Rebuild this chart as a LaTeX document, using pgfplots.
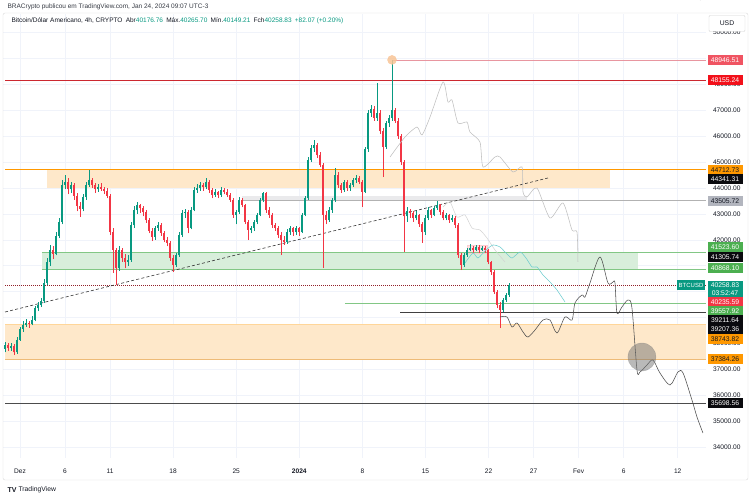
\documentclass[border=0pt]{standalone}
\usepackage{pgfplots}
\usepackage{pgfplotstable}
\pgfplotsset{compat=1.18}
\usetikzlibrary{calc}
\usepackage{fontspec}
\setmainfont{Liberation Sans}

\definecolor{upcol}{RGB}{8,153,129}
\definecolor{dncol}{RGB}{242,54,69}
\definecolor{txt}{RGB}{19,23,34}
\definecolor{gridcol}{RGB}{240,243,250}
\definecolor{peach}{RGB}{254,232,202}
\definecolor{mint}{RGB}{216,238,219}
\definecolor{band}{RGB}{234,234,236}
\definecolor{orng}{RGB}{255,152,0}
\definecolor{grn}{RGB}{76,175,80}
\definecolor{redln}{RGB}{204,40,48}
\definecolor{pinkln}{RGB}{232,150,160}
\definecolor{pinklab}{RGB}{240,84,98}
\definecolor{redlab}{RGB}{242,16,26}
\definecolor{graylab}{RGB}{178,181,190}
\definecolor{blk}{RGB}{10,10,14}
\definecolor{aqua}{RGB}{110,205,208}
\definecolor{dotcol}{RGB}{248,196,150}

% 8h candles: i, open, high, low, close
\pgfplotstableread{
i o h l c
0 37800 38050 37650 37940
1 37940 38000 37700 37820
2 37820 38020 37720 37900
3 37900 37960 37550 37650
4 37650 38250 37600 38150
5 38150 38650 38100 38550
6 38550 38850 38450 38720
7 38720 38950 38650 38800
8 38800 38880 38600 38760
9 38760 39050 38700 38900
10 38900 39450 38850 39350
11 39350 39600 39250 39480
12 39480 39750 39400 39620
13 39620 40500 39550 40350
14 40350 41300 40250 41150
15 41150 41800 41000 41610
16 41610 41750 41250 41450
17 41450 42300 41400 42150
18 42150 42850 42050 42700
19 42700 44300 42600 44120
20 44120 44500 43950 44250
21 44250 44400 43750 43950
22 43950 44250 43800 44100
23 44100 44200 43550 43700
24 43700 43800 43100 43300
25 43300 43450 42880 43200
26 43200 43750 43100 43650
27 43650 44250 43550 44120
28 44120 44700 44050 44300
29 44300 44400 44000 44120
30 44120 44200 43800 43950
31 43950 44150 43850 44050
32 44050 44200 43900 43980
33 43980 44050 43750 43900
34 43900 44000 43600 43700
35 43700 43750 42200 42300
36 42300 42450 40720 41600
37 41600 41700 40250 40910
38 40910 41750 40800 41610
39 41610 41700 41150 41300
40 41300 41450 40900 41140
41 41140 41400 41000 41220
42 41220 42700 41150 42570
43 42570 43300 42450 43150
44 43150 43450 43000 43340
45 43340 43400 43050 43230
46 43230 43300 42900 43070
47 43070 43150 42650 42760
48 42760 42850 42250 42350
49 42350 42450 41950 42110
50 42110 42550 42000 42460
51 42460 42700 42350 42570
52 42570 42650 42150 42260
53 42260 42350 41900 42000
54 42000 42100 41750 41880
55 41880 41950 41200 41300
56 41300 41400 40760 41030
57 41030 41500 40950 41410
58 41410 42300 41350 42190
59 42190 43150 42100 43030
60 43030 43200 42850 43070
61 43070 43150 42250 42460
62 42460 43250 42400 43150
63 43150 44050 43100 43920
64 43920 44150 43800 44000
65 44000 44250 43900 44120
66 44120 44200 43900 44040
67 44040 44390 43950 44230
68 44230 44300 43800 43920
69 43920 44000 43600 43730
70 43730 43950 43650 43850
71 43850 43900 43600 43730
72 43730 44050 43650 43920
73 43920 44000 43750 43850
74 43850 43950 43650 43730
75 43730 43800 43450 43540
76 43540 43600 42850 42960
77 42960 43150 42600 43070
78 43070 43650 43000 43540
79 43540 43600 43250 43340
80 43340 43400 42600 42690
81 42690 42750 41990 42380
82 42380 42550 42250 42460
83 42460 42750 42350 42690
84 42690 43050 42600 42960
85 42960 43600 42900 43540
86 43540 43850 43450 43810
87 43810 43850 43050 43150
88 43150 43250 42850 42960
89 42960 43050 42450 42570
90 42570 42650 42350 42460
91 42460 42550 42050 42190
92 42190 42300 41410 42000
93 42000 42150 41800 41920
94 41920 42400 41850 42300
95 42300 42550 42200 42460
96 42460 42500 42150 42300
97 42300 42550 42200 42460
98 42460 42500 42150 42300
99 42300 43050 42250 42960
100 42960 43700 42900 43610
101 43610 45200 43550 45080
102 45080 45650 45000 45540
103 45540 45850 45400 45660
104 45660 45750 45150 45270
105 45270 45400 44800 44890
106 44890 44950 40910 42960
107 42960 43100 42600 42760
108 42760 43250 42700 43150
109 43150 43600 43050 43540
110 43540 44770 43450 44500
111 44500 44600 44000 44120
112 44120 44200 43800 43920
113 43920 44300 43850 44230
114 44230 44300 43900 44000
115 44000 44200 43900 44120
116 44120 44400 44050 44310
117 44310 44500 44200 44390
118 44390 44450 44150 44230
119 44230 44300 43270 43850
120 43850 45600 43800 45500
121 45500 47000 45400 46900
122 46900 47200 46750 47050
123 47050 47150 46600 46700
124 46700 48050 46600 46900
125 46900 47000 46100 46200
126 46200 46300 44420 45600
127 45600 46600 45500 46500
128 46500 46800 46350 46700
129 46700 48946.51 46600 47000
130 47000 47100 46500 46600
131 46600 46700 45900 46000
132 46000 46100 44900 45000
133 45000 45100 41530 42900
134 42900 43250 42700 43100
135 43100 43200 42850 43030
136 43030 43100 42700 42840
137 42840 43100 42750 42960
138 42960 43000 42500 42600
139 42600 42700 41880 42300
140 42300 42950 42200 42840
141 42840 43250 42750 43150
142 43150 43200 42850 42960
143 42960 43300 42900 43230
144 43230 43500 43150 43340
145 43340 43400 42950 43070
146 43070 43150 42750 42840
147 42840 43050 42750 42960
148 42960 43000 42650 42760
149 42760 42950 42700 42840
150 42840 42900 42450 42570
151 42570 42650 41300 41410
152 41410 41500 40830 41030
153 41030 41500 40950 41410
154 41410 41700 41350 41610
155 41610 41850 41550 41680
156 41680 41750 41500 41610
157 41610 41800 41550 41720
158 41720 41780 41500 41610
159 41610 41750 41550 41680
160 41680 41750 41500 41610
161 41610 41650 41050 41140
162 41140 41200 40650 40760
163 40760 40850 39900 39980
164 39980 40050 39350 39480
165 39480 39600 38590 39290
166 39290 39750 39200 39680
167 39680 39950 39600 39870
168 39870 40330 39800 40258.83
}\candles

\pgfplotsset{
  wick/.style={draw=none, mark=none, forget plot,
    error bars/y dir=plus, error bars/y explicit, error bars/error mark=none,
    error bars/error bar style={line width=0.6pt, draw=#1, solid}},
  body/.style={draw=none, mark=none, forget plot,
    error bars/y dir=plus, error bars/y explicit, error bars/error mark=none,
    error bars/error bar style={line width=2pt, draw=#1, solid}},
}

\tikzset{lab/.style={anchor=center, minimum width=35pt, minimum height=9.4pt,
  inner sep=0pt, font=\fontsize{6.8}{7}\selectfont}}

\begin{document}
\begin{tikzpicture}
\begin{axis}[
  scale only axis,
  width=703pt, height=444pt,
  xmin=-1.887, xmax=76.14, ymin=33575, ymax=50718,
  axis line style={draw=none},
  major tick length=0pt,
  xtick={0,5,10,17,24,31,38,45,52,57,62,67,73},
  xticklabels={Dez,6,11,18,25,\textbf{2024},8,15,22,27,Fev,6,12},
  ytick={34000,35000,...,50000},
  yticklabels={34000.00,35000.00,36000.00,37000.00,38000.00,{},{},{},42000.00,43000.00,44000.00,45000.00,46000.00,47000.00,48000.00,{},50000.00},
  yticklabel pos=right,
  grid=major, grid style={draw=gridcol, line width=0.5pt},
  tick label style={font=\fontsize{6.6}{7}\selectfont, text=txt},
  yticklabel style={anchor=west, xshift=3.5pt},
  xticklabel style={anchor=center, yshift=-13pt},
]
\coordinate (O) at (rel axis cs:0,0);
% zones
\addplot[fill=peach, draw=none, forget plot] coordinates {(-1.66,37384.26) (76.14,37384.26) (76.14,38743.82) (-1.66,38743.82)} -- cycle;
\addplot[fill=peach, draw=none, forget plot] coordinates {(3.0,43990) (65.48,43990) (65.48,44712.73) (3.0,44712.73)} -- cycle;
\addplot[fill=mint, draw=none, forget plot] coordinates {(2.44,40868.10) (68.59,40868.10) (68.59,41523.60) (2.44,41523.60)} -- cycle;
\addplot[fill=band, draw=none, forget plot] coordinates {(24.64,43505.72) (56.27,43505.72) (56.27,43690) (24.64,43690)} -- cycle;
\addplot[fill=dncol!14, draw=dncol!25, line width=0.3pt, forget plot] coordinates {(49.61,41490) (51.83,41490) (51.83,41800) (49.61,41800)} -- cycle;

% horizontal levels
\addplot[pinkln, line width=0.7pt, forget plot] coordinates {(41.29,48946.51) (76.14,48946.51)};
\addplot[redln, line width=0.7pt, forget plot] coordinates {(-1.66,48155.24) (76.14,48155.24)};
\addplot[orng, line width=0.5pt, forget plot] coordinates {(-1.66,44712.73) (76.14,44712.73)};
\addplot[gray!60, line width=0.6pt, forget plot] coordinates {(24.64,43505.72) (76.14,43505.72)};
\addplot[grn!70, line width=0.6pt, forget plot] coordinates {(2.44,41523.60) (76.14,41523.60)};
\addplot[grn!70, line width=0.6pt, forget plot] coordinates {(2.44,40868.10) (76.14,40868.10)};
\addplot[dncol!60!black, line width=0.5pt, dash pattern=on 1pt off 1pt, forget plot] coordinates {(-1.66,40258.83) (76.14,40258.83)};
\addplot[grn!70, line width=0.5pt, forget plot] coordinates {(36.07,39557.92) (76.14,39557.92)};
\addplot[black!75, line width=0.7pt, forget plot] coordinates {(42.18,39211.64) (76.14,39211.64)};
\addplot[orng!40, line width=0.5pt, forget plot] coordinates {(-1.66,38743.82) (76.14,38743.82)};
\addplot[orng!55!brown!60, line width=0.6pt, forget plot] coordinates {(-1.66,37384.26) (76.14,37384.26)};
\addplot[black!70, line width=0.7pt, forget plot] coordinates {(-1.66,35698.56) (76.14,35698.56)};
% trend line
\addplot[black!80, line width=0.6pt, dash pattern=on 3pt off 2.2pt, forget plot] coordinates {(-1.66,39212) (58.6,44386)};

% candles
\addplot[restrict expr to domain={\thisrow{c}-\thisrow{o}}{0:1e7}, wick=upcol]
  table[x expr=\thisrow{i}*0.333-1.665, y=l, y error plus expr=\thisrow{h}-\thisrow{l}] {\candles};
\addplot[restrict expr to domain={\thisrow{o}-\thisrow{c}}{0.001:1e7}, wick=dncol]
  table[x expr=\thisrow{i}*0.333-1.665, y=l, y error plus expr=\thisrow{h}-\thisrow{l}] {\candles};
\addplot[restrict expr to domain={\thisrow{c}-\thisrow{o}}{0:1e7}, body=upcol]
  table[x expr=\thisrow{i}*0.333-1.665, y=o, y error plus expr=\thisrow{c}-\thisrow{o}] {\candles};
\addplot[restrict expr to domain={\thisrow{o}-\thisrow{c}}{0.001:1e7}, body=dncol]
  table[x expr=\thisrow{i}*0.333-1.665, y=c, y error plus expr=\thisrow{o}-\thisrow{c}] {\candles};

% projections
\addplot[gray!50, line width=0.55pt, smooth, tension=0.4, forget plot] coordinates {
 (41.07,45197) (42.73,45969) (44.06,46355) (44.62,46046) (45.51,46741) (46.95,48093)
 (47.50,47320) (47.95,47397) (48.61,46510) (49.61,46548) (49.94,46162) (51.05,45776)
 (51.39,44811) (52.72,45197) (53.27,45197) (54.72,44618) (55.72,44811) (55.83,43846)
 (56.27,43653) (57.38,44000) (58.82,42842) (60.27,43421) (61.27,42378) (61.82,42301) (61.93,41143)};
\addplot[gray!35, line width=0.5pt, smooth, tension=0.4, forget plot] coordinates {
 (46.95,43266) (47.72,43459) (48.50,42880) (49.39,42958) (50.17,42456) (51.05,42378)
 (51.83,42069) (52.72,41606) (53.83,41143)};
\addplot[aqua, line width=0.55pt, smooth, tension=0.4, forget plot] coordinates {
 (49.39,41104) (50.28,41490) (50.83,41297) (51.72,41606) (52.50,41799) (53.27,41722)
 (53.94,41490) (54.61,41297) (55.49,41529) (56.16,41297) (56.83,40950) (57.38,40950)
 (58.05,40641) (58.82,40371) (59.60,40062) (60.49,39598)};
\addplot[black!70, line width=0.55pt, smooth, tension=0.5, forget plot] coordinates {
 (53.27,39019) (54.05,39019) (54.61,38633) (55.16,38788) (55.83,38440) (56.38,38247)
 (57.16,38517) (58.05,38903) (58.82,38903) (59.60,38402) (60.49,39019) (61.27,38903)
 (61.60,39560) (62.38,39869) (62.71,39792) (63.26,40332) (64.37,41336) (65.26,40332)
 (65.82,40371) (66.04,40332) (66.26,39173) (66.81,39405) (67.48,39676) (67.92,39367)
 (68.48,36973) (68.81,36896) (69.59,37166) (70.25,37359) (71.03,36857) (72.14,36394)
 (73.03,36896) (73.59,36857) (74.58,35815) (75.14,35158) (75.80,34541)};

% markers
\addplot[only marks, mark=*, mark size=14pt, mark options={fill=black!55, fill opacity=0.5, draw=black!50, draw opacity=0.4}, forget plot] coordinates {(69.03,37475)};
\addplot[only marks, mark=*, mark size=4.5pt, mark options={fill=dotcol, draw=dotcol, fill opacity=0.85, draw opacity=0.85}, forget plot] coordinates {(41.29,48946.51)};
\end{axis}

\pgfresetboundingbox
\begin{scope}[shift={($(O)+(-3pt,-41pt)$)}, x=1pt, y=1pt]
\path[use as bounding box] (0,0) rectangle (750,499);
\draw[gray!30, rounded corners=2pt] (3,19) rectangle (748,486);

% header and legend
\node[anchor=west, font=\fontsize{6.5}{7}\selectfont, text=txt!85] at (4,492) {BRACrypto publicou em TradingView.com, Jan 24, 2024 09:07 UTC-3};
\node[anchor=west, font=\fontsize{6.5}{7}\selectfont, text=txt] at (8,478) {Bitcoin/Dólar Americano, 4h, CRYPTO\enspace Abr\textcolor{upcol}{40176.76}\enspace Máx.\textcolor{upcol}{40265.70}\enspace Mín.\textcolor{upcol}{40149.21}\enspace Fch\textcolor{upcol}{40258.83}\enspace\textcolor{upcol}{+82.07 (+0.20\%)}};
\node[anchor=west, font=\fontsize{7}{8}\selectfont\bfseries, text=txt] at (4,9) {TV};
\node[anchor=west, font=\fontsize{6.8}{8}\selectfont, text=txt] at (15,9) {TradingView};

% price axis labels
\node[lab, fill=white, draw=gray!35, rounded corners=1pt, minimum width=36pt, minimum height=16pt, text=txt] at (727,475.5) {USD};
\node[lab, fill=pinklab, text=white] at (725,439) {48946.51};
\node[lab, fill=redlab, text=white] at (725,419) {48155.24};
\node[lab, fill=orng, text=txt] at (725,329) {44712.73};
\node[lab, fill=blk, text=white] at (725,320) {44341.31};
\node[lab, fill=graylab, text=txt] at (725,298) {43505.72};
\node[lab, fill=grn, text=white] at (725,252) {41523.60};
\node[lab, fill=blk, text=white] at (725,242) {41305.74};
\node[lab, fill=grn, text=white] at (725,231) {40868.10};
\node[lab, fill=upcol, text=white, minimum height=16.5pt, align=center, font=\fontsize{6.8}{8}\selectfont] at (725,210) {40258.83\\[-0.5pt]03:52:47};
\node[lab, fill=dncol, text=white] at (725,197) {40235.59};
\node[lab, fill=grn, text=white] at (725,188) {39557.92};
\node[lab, fill=blk, text=white] at (725,179) {39211.64};
\node[lab, fill=blk, text=white] at (725,170) {39207.36};
\node[lab, fill=orng, text=txt] at (725,160) {38743.82};
\node[lab, fill=orng, text=txt] at (725,140) {37384.26};
\node[lab, fill=blk, text=white] at (725,96) {35698.56};
\node[lab, fill=upcol, text=white, minimum width=28pt, font=\fontsize{6}{7}\selectfont] at (691,214) {BTCUSD};
\end{scope}
\end{tikzpicture}
\end{document}
